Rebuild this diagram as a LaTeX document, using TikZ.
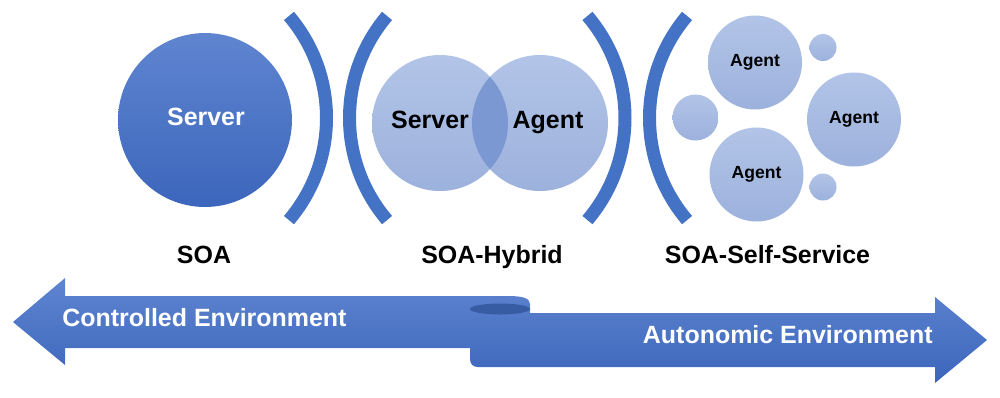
\documentclass[tikz,border=0pt]{standalone}
\usepackage{fontspec}
\setmainfont{Liberation Sans}
\usepackage{xcolor}
\usepackage{tikz}
\usetikzlibrary{calc, positioning, shapes.geometric}

\definecolor{soablue}{RGB}{68,114,196}
\definecolor{soatop}{RGB}{95,133,208}
\definecolor{soabot}{RGB}{60,102,188}
\definecolor{lighttop}{RGB}{178,196,231}
\definecolor{lightbot}{RGB}{156,177,220}
\definecolor{overlapblue}{RGB}{124,152,210}
\definecolor{curlblue}{RGB}{56,92,164}

\tikzset{
    soa/.style={
        x=0.02cm, y=-0.02cm,
        font=\fontsize{14.2}{17}\selectfont\bfseries,
        bigball/.style={circle, inner sep=0pt, top color=soatop, bottom color=soabot},
        ball/.style={circle, inner sep=0pt, top color=lighttop, bottom color=lightbot},
        agentball/.style={ball, font=\fontsize{10}{12}\selectfont\bfseries},
        bracket/.style={line width=7.4pt, draw=soablue},
        ribbon/.style={top color=soatop, bottom color=soabot},
        caption/.style={anchor=base, inner sep=0pt, text=black},
        whitetext/.style={inner sep=0pt, text=white}
    }
}

\begin{document}
\begin{tikzpicture}[soa]
        \useasboundingbox (0,0) rectangle (1000,397);

        % SOA: one server
        \node[bigball, minimum size=3.48cm] (srv) at (205,120) {};
        \node[whitetext, anchor=base] (srvtxt) at (206,125) {Server};

        % brackets
        \draw[bracket] (169,118) ++(-40.4:157.5) arc[start angle=-40.4, end angle=40.4, radius=157.5];
        \draw[bracket] (507,118) ++(139.6:157.5) arc[start angle=139.6, end angle=220.4, radius=157.5];
        \draw[bracket] (467.5,118) ++(-40.4:157.5) arc[start angle=-40.4, end angle=40.4, radius=157.5];
        \draw[bracket] (807,118) ++(139.6:157.5) arc[start angle=139.6, end angle=220.4, radius=157.5];

        % SOA-Hybrid: server and agent overlap
        \node[ball, minimum size=2.72cm] (hsrv) at (440,123) {};
        \node[ball, minimum size=2.72cm] (hagt) at (540,123) {};
        \begin{scope}
            \clip (hsrv.center) circle[radius=68];
            \fill[overlapblue] (hagt.center) circle[radius=68];
        \end{scope}
        \node[caption] (hsrvtxt) at (430,128) {Server};
        \node[caption] (hagttxt) at (548,128) {Agent};

        % SOA-Self-Service: agents
        \node[agentball, minimum size=1.88cm] (agt1) at (755,62.5) {Agent};
        \node[agentball, minimum size=1.88cm] (agt2) at (854,119.5) {Agent};
        \node[agentball, minimum size=1.88cm] (agt3) at (756.5,174.5) {Agent};
        \node[ball, minimum size=0.92cm] (dot1) at (695.5,117.5) {};
        \node[ball, minimum size=0.54cm] (dot2) at (823,47.5) {};
        \node[ball, minimum size=0.54cm] (dot3) at (823,187) {};

        % captions
        \node[caption] (soa) at (204,263) {SOA};
        \node[caption] (hybrid) at (492,263) {SOA-Hybrid};
        \node[caption] (self) at (767.5,263) {SOA-Self-Service};

        % double arrow with curl
        \path[ribbon] (13,322) -- (65,278) -- (65,296) -- (508,296)
            .. controls (522,296) and (530,298) .. (530,304) -- (530,313)
            -- (935,313) -- (935,297) -- (987,340) -- (935,383) -- (935,367) -- (478,367)
            .. controls (473,367) and (470,364) .. (470,359) -- (470,348)
            -- (65,348) -- (65,365) -- cycle;
        \fill[curlblue] (500,309) ellipse[x radius=30, y radius=5.5];
        \node[whitetext, anchor=base west] (ctl) at (62,326) {Controlled Environment};
        \node[whitetext, anchor=base east] (auto) at (933,343) {Autonomic Environment};

\end{tikzpicture}
\end{document}
